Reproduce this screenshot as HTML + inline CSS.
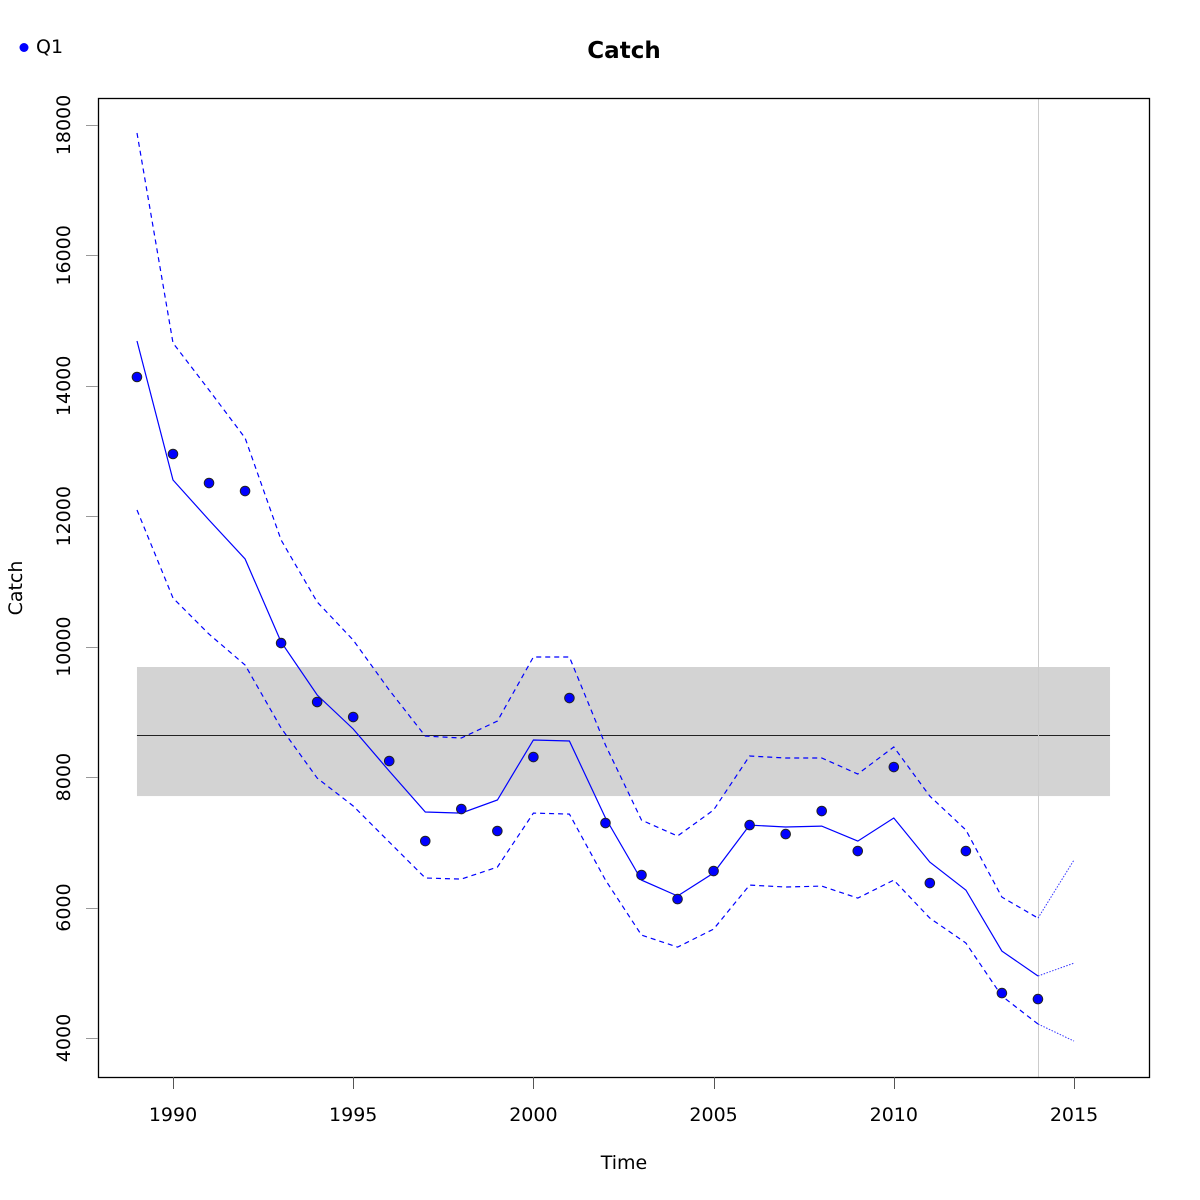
<!DOCTYPE html>
<html><head><meta charset="utf-8"><style>
html,body{margin:0;padding:0;background:#fff;}
svg{display:block;font-family:"DejaVu Sans","Liberation Sans",sans-serif;}
</style></head><body>
<svg id="chart" width="1200" height="1200" xmlns="http://www.w3.org/2000/svg"></svg>
<script>
const years = [1989,1990,1991,1992,1993,1994,1995,1996,1997,1998,1999,2000,2001,2002,2003,2004,2005,2006,2007,2008,2009,2010,2011,2012,2013,2014];
const observed = [14136,12955,12510,12387,10056,9152,8922,8247,7020,7511,7174,8308,9213,7296,6499,6130,6560,7265,7127,7480,6867,8155,6376,6867,4689,4597];
const fitted = [14688,12556,11943,11345,10072,9259,8738,8094,7465,7449,7649,8569,8554,7373,6422,6177,6530,7265,7235,7250,7020,7373,6698,6268,5333,4950];
const upper = [17877,14657,13936,13200,11636,10685,10102,9336,8630,8600,8860,9842,9842,8492,7342,7097,7496,8324,8293,8293,8048,8462,7710,7189,6161,5839];
const lower = [12096,10747,10194,9719,8753,7986,7557,7005,6453,6437,6621,7449,7434,6422,5578,5394,5670,6345,6315,6330,6146,6422,5839,5456,4643,4214];
const forecastYears = [2014,2015];
const forecastFit = [4950,5149];
const forecastUpper = [5839,6729];
const forecastLower = [4214,3953];
const bandLow = 7710, bandMean = 8646, bandHigh = 9689;
const bandYears = [1989,2016];
const refYear = 2014;
const xTicks = [1990,1995,2000,2005,2010,2015];
const yTicks = [4000,6000,8000,10000,12000,14000,16000,18000];

const X = y => 173 + (y-1990)*36.04;
const Y = v => 1038 - (v-4000)*0.065214;
const svg = document.getElementById('chart');
const NS = 'http://www.w3.org/2000/svg';
function el(tag, attrs, parent){ const e=document.createElementNS(NS,tag); for(const k in attrs) e.setAttribute(k,attrs[k]); (parent||svg).appendChild(e); return e; }
function pts(xs, vs){ return xs.map((x,i)=>X(x).toFixed(1)+','+Y(vs[i]).toFixed(1)).join(' '); }

let b = el('rect',{x:X(bandYears[0]),y:Y(bandHigh),width:X(bandYears[1])-X(bandYears[0]),height:Y(bandLow)-Y(bandHigh),fill:'#d3d3d3'});


let my = Math.round(Y(bandMean))+0.5;
let m = el('line',{x1:X(bandYears[0]),x2:X(bandYears[1]),y1:my,y2:my,stroke:'#222','stroke-width':1});


let vx = Math.round(X(refYear))+0.5;
let v = el('line',{x1:vx,x2:vx,y1:98,y2:1077,stroke:'#cccccc','stroke-width':1});



let l1 = el('polyline',{points:pts(years,upper),fill:'none',stroke:'#0000ff','stroke-width':1.2,'stroke-dasharray':'5,4'});


let l2 = el('polyline',{points:pts(years,lower),fill:'none',stroke:'#0000ff','stroke-width':1.2,'stroke-dasharray':'5,4'});


let l3 = el('polyline',{points:pts(years,fitted),fill:'none',stroke:'#0000ff','stroke-width':1.2});


[[forecastFit,'forecast-fit'],[forecastUpper,'forecast-upper'],[forecastLower,'forecast-lower']].forEach(([arr,n])=>{
  const f = el('polyline',{points:pts(forecastYears,arr),fill:'none',stroke:'#0000ff','stroke-width':1,'stroke-dasharray':'1.5,1.5','stroke-opacity':0.8});
  
  
});
years.forEach((yr,i)=>{
  const c = el('circle',{cx:X(yr),cy:Y(observed[i]),r:4.8,fill:'#0000ff',stroke:'#222','stroke-width':1});
  
  
});

let fr = el('rect',{x:98.5,y:98.5,width:1051,height:979,fill:'none',stroke:'#000','stroke-width':1.3});



xTicks.forEach(t=>{
  const tx0 = Math.round(X(t))+0.5;
  const tk = el('line',{x1:tx0,x2:tx0,y1:1077,y2:1089,stroke:'#555','stroke-width':1});
  
  
  const tx = el('text',{x:X(t),y:1121,'text-anchor':'middle','font-size':19,fill:'#000'});
  tx.textContent = t;
  
  
});
yTicks.forEach(t=>{
  const ty0 = Math.round(Y(t))+0.5;
  const tk = el('line',{x1:86,x2:98,y1:ty0,y2:ty0,stroke:'#999','stroke-width':1});
  
  
  const tx = el('text',{x:0,y:0,'text-anchor':'middle','font-size':19,fill:'#000',transform:`translate(70,${Y(t)}) rotate(-90)`});
  tx.textContent = t;
  
  
});
</script>
<div style="position:absolute;left:0;top:0;width:1200px;height:1200px;pointer-events:none">
<svg width="1200" height="1200" xmlns="http://www.w3.org/2000/svg" style="font-family:'DejaVu Sans','Liberation Sans',sans-serif">
<text x="624" y="58" text-anchor="middle" font-size="23" font-weight="bold">Catch</text>
<text x="624" y="1169" text-anchor="middle" font-size="19">Time</text>
<text transform="translate(22,588) rotate(-90)" text-anchor="middle" font-size="19">Catch</text>
<g>
<circle cx="24" cy="47.5" r="4.5" fill="#0000ff"/>
<text x="36" y="53" font-size="19">Q1</text>
</g>
</svg></div>
</body></html>
